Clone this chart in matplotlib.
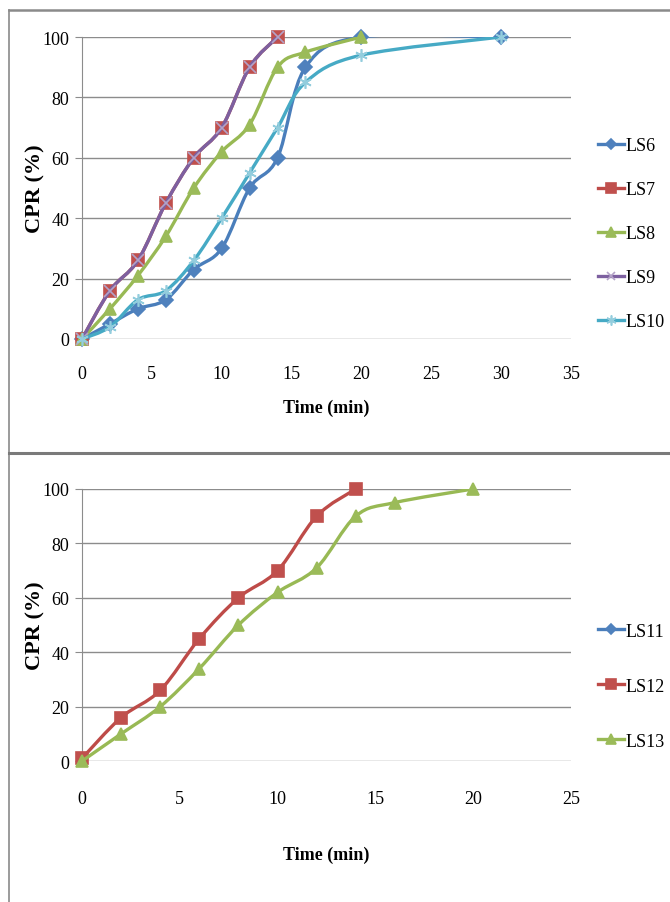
import matplotlib
matplotlib.use("Agg")
import matplotlib.pyplot as plt
import numpy as np
from matplotlib.path import Path
from matplotlib.patches import PathPatch
from matplotlib.lines import Line2D

# release profiles, batch 1 (LS6 - LS10)
t_ls6 = [0, 2, 4, 6, 8, 10, 12, 14, 16, 20, 30]
cpr_ls6 = [0, 5, 10, 13, 23, 30, 50, 60, 90, 100, 100]
t_ls7 = [0, 2, 4, 6, 8, 10, 12, 14]
cpr_ls7 = [0, 16, 26, 45, 60, 70, 90, 100]
t_ls8 = [0, 2, 4, 6, 8, 10, 12, 14, 16, 20]
cpr_ls8 = [0, 10, 21, 34, 50, 62, 71, 90, 95, 100]
t_ls9 = [0, 2, 4, 6, 8, 10, 12, 14]
cpr_ls9 = [0, 16, 26, 45, 60, 70, 90, 100]
t_ls10 = [0, 2, 4, 6, 8, 10, 12, 14, 16, 20, 30]
cpr_ls10 = [0, 4, 13, 16, 26, 40, 55, 70, 85, 94, 100]

# release profiles, batch 2 (LS11 - LS13)
t_ls11 = []
cpr_ls11 = []
t_ls12 = [0, 2, 4, 6, 8, 10, 12, 14]
cpr_ls12 = [1, 16, 26, 45, 60, 70, 90, 100]
t_ls13 = [0, 2, 4, 6, 8, 10, 12, 14, 16, 20]
cpr_ls13 = [0, 10, 20, 34, 50, 62, 71, 90, 95, 100]

top_names = ["LS6", "LS7", "LS8", "LS9", "LS10"]
bottom_names = ["LS11", "LS12", "LS13"]

plt.rcParams["font.family"] = ["Liberation Serif", "DejaVu Serif"]

BLUE = "#4A7EBB"
RED = "#BE4B48"
GREEN = "#98B954"
PURPLE = "#7D60A0"
CYAN = "#46AAC5"
GRID = "#8C8C8C"


def smooth_path(x, y):
    # cubic bezier through the points (Catmull-Rom style tangents)
    pts = np.column_stack([x, y]).astype(float)
    verts = [pts[0]]
    codes = [Path.MOVETO]
    n = len(pts)
    for i in range(n - 1):
        p0 = pts[max(i - 1, 0)]
        p1 = pts[i]
        p2 = pts[i + 1]
        p3 = pts[min(i + 2, n - 1)]
        c1 = p1 + (p2 - p0) / 6.0
        c2 = p2 - (p3 - p1) / 6.0
        verts += [c1, c2, p2]
        codes += [Path.CURVE4] * 3
    return Path(verts, codes)


def draw_series(ax, x, y, color, marker, ms, mfc, z):
    if len(x) > 1:
        ax.add_patch(PathPatch(smooth_path(x, y), facecolor="none", edgecolor=color,
                               lw=2.4, zorder=z, capstyle="round", joinstyle="round"))
    ax.plot(x, y, linestyle="none", marker=marker, markersize=ms, clip_on=False,
            markerfacecolor=mfc, markeredgecolor=mfc, markeredgewidth=1.2, zorder=z + 0.5)
    return Line2D([], [], color=color, lw=2.4, marker=marker, markersize=ms * 0.8,
                  markerfacecolor=mfc, markeredgecolor=mfc, markeredgewidth=1.2)


def style_axes(ax, xmax, xpad, labelpad):
    ax.set_xlim(0, xmax)
    ax.set_ylim(0, 100)
    ax.set_xticks(np.arange(0, xmax + 1, 5))
    ax.set_yticks(np.arange(0, 101, 20))
    ax.yaxis.grid(True, color=GRID, lw=1.0)
    ax.set_axisbelow(True)
    for s in ["top", "right", "bottom"]:
        ax.spines[s].set_visible(False)
    ax.spines["left"].set_color(GRID)
    ax.tick_params(axis="y", length=5, color=GRID, labelsize=13, pad=4)
    ax.tick_params(axis="x", length=0, labelsize=13, pad=xpad)
    ax.set_ylabel("CPR (%)", fontsize=16, fontweight="bold", va="center")
    ax.yaxis.set_label_coords(-0.096, 0.5)
    ax.set_xlabel("Time (min)", fontsize=13, fontweight="bold", labelpad=labelpad)


fig = plt.figure(figsize=(6.7, 9.03), dpi=100)

ax1 = fig.add_axes([0.1224, 0.6235, 0.7296, 0.3344])
handles = [
    draw_series(ax1, t_ls6, cpr_ls6, BLUE, "D", 7, "#4F81BD", 2),
    draw_series(ax1, t_ls7, cpr_ls7, RED, "s", 9, "#C0504D", 3),
    draw_series(ax1, t_ls8, cpr_ls8, GREEN, "^", 9, "#9BBB59", 4),
    draw_series(ax1, t_ls9, cpr_ls9, PURPLE, "x", 8, "#B3A2C7", 5),
    draw_series(ax1, t_ls10, cpr_ls10, CYAN, (6, 2, 0), 9, "#93CDDD", 6),
]
style_axes(ax1, 35, 18.5, 12)
ax1.legend(handles, top_names, loc="center left", bbox_to_anchor=(0.893, 0.74),
           bbox_transform=fig.transFigure, frameon=False, fontsize=13,
           borderpad=0, borderaxespad=0,
           labelspacing=1.5, handlelength=1.4, handletextpad=0.1)

ax2 = fig.add_axes([0.1224, 0.1561, 0.7296, 0.3013])
handles = [
    draw_series(ax2, t_ls11, cpr_ls11, BLUE, "D", 7, "#4F81BD", 2),
    draw_series(ax2, t_ls12, cpr_ls12, RED, "s", 9, "#C0504D", 3),
    draw_series(ax2, t_ls13, cpr_ls13, GREEN, "^", 9, "#9BBB59", 4),
]
style_axes(ax2, 25, 21, 28)
ax2.legend(handles, bottom_names, loc="center left", bbox_to_anchor=(0.893, 0.239),
           bbox_transform=fig.transFigure, frameon=False, fontsize=13,
           borderpad=0, borderaxespad=0,
           labelspacing=2.1, handlelength=1.4, handletextpad=0.1)

# panel frame lines
fx = 9 / 670
fig.add_artist(Line2D([fx, 1], [1 - 11 / 903] * 2, color="#8A8A8A", lw=1.8, transform=fig.transFigure))
fig.add_artist(Line2D([fx, fx], [0, 1 - 11 / 903], color="#8A8A8A", lw=1.2, transform=fig.transFigure))
fig.add_artist(Line2D([fx, 1], [1 - 454 / 903] * 2, color="#7A7A7A", lw=2.2, transform=fig.transFigure))

fig.savefig("out.png", dpi=100)
